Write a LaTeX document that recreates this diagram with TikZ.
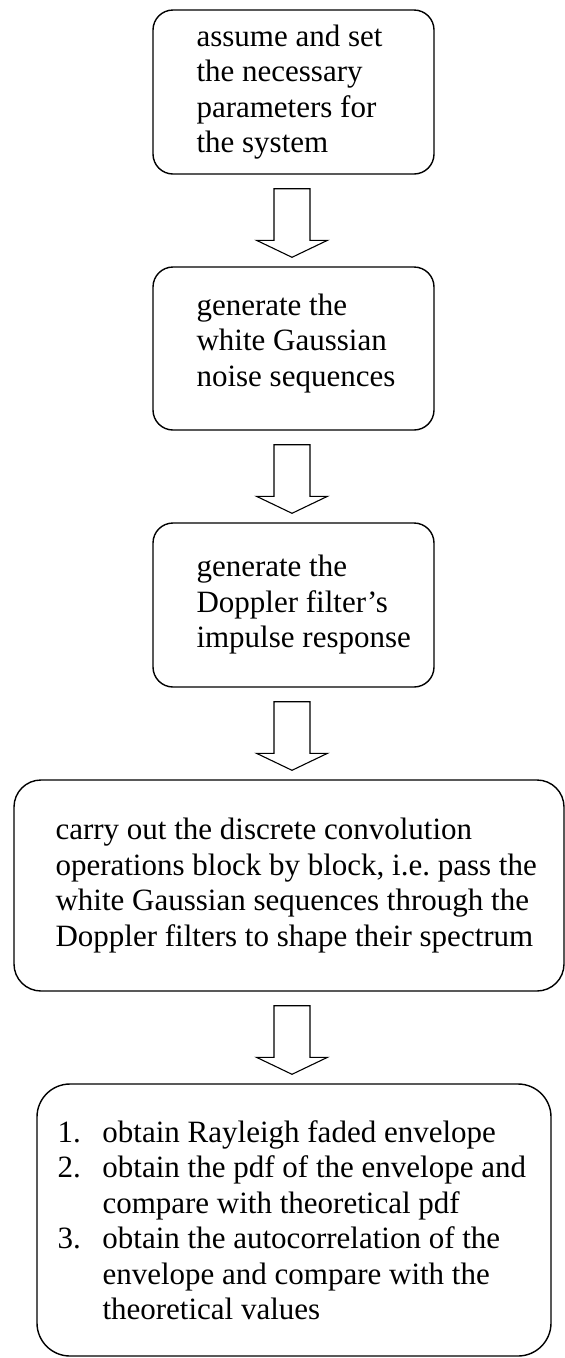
\documentclass[tikz,border=0pt]{standalone}
\usepackage{fontspec}
\setmainfont{Liberation Serif}
\usetikzlibrary{calc}
\newcommand{\stepfont}{\fontsize{31}{35.5}\selectfont\frenchspacing}
\tikzset{
  stepbox/.style={draw=black,line width=1.4pt,rounded corners=20pt,
                  minimum width=281pt,minimum height=164pt},
  widebox/.style={stepbox,rounded corners=27pt,minimum width=550pt,minimum height=211pt},
  listbox/.style={stepbox,rounded corners=33pt,minimum width=514pt,minimum height=272pt},
  steptext/.style={anchor=west,align=left,inner sep=0pt,font=\stepfont},
  hollow/.style={draw=black,line width=1.1pt,line join=miter,fill=white},
}
% hollow block arrow from the box above to the box below
\newcommand{\flowstep}[2]{%
  \draw[hollow] ($(axis |- #1.south)+(-18,14)$) -- ($(axis |- #2.north)+(-18,-26)$)
    -- ++(-17.5,0) -- ($(axis |- #2.north)+(0,-9)$) -- ($(axis |- #2.north)+(35.5,-26)$)
    -- ++(-17.5,0) -- ($(axis |- #1.south)+(18,14)$) -- cycle;}
\newcommand{\itemno}[1]{\makebox[45pt][l]{#1}}

\begin{document}
\begin{tikzpicture}[x=1pt,y=-1pt]
  \path[use as bounding box,fill=white] (0,0) rectangle (565,1358);
  \coordinate (axis) at (292,0);

  \node[stepbox] (params) at (293.5,92) {};
  \node[stepbox,minimum height=163pt] (noise) at (293.5,348.5) {};
  \node[stepbox] (impulse) at (293.5,605) {};
  \node[widebox] (conv) at (289,885.5) {};
  \node[listbox] (results) at (294,1220) {};

  \node[steptext] (paramsText) at ([xshift=44pt]params.west)
    {assume and set\\the necessary\\parameters for\\the system};
  \node[steptext] (noiseText) at ([xshift=44pt,yshift=5pt]noise.west)
    {generate the\\white Gaussian\\noise sequences};
  \node[steptext] (impulseText) at ([xshift=44pt]impulse.west)
    {generate the\\Doppler filter’s\\impulse response};
  \node[steptext] (convText) at ([xshift=42pt]conv.west)
    {carry out the discrete convolution\\
     operations block by block, i.e. pass the\\
     white Gaussian sequences through the\\
     Doppler filters to shape their spectrum};
  \node[steptext] (resultsText) at ([xshift=21pt]results.west)
    {\itemno{1.}obtain Rayleigh faded envelope\\
     \itemno{2.}obtain the pdf of the envelope and\\
     \hspace*{45pt}compare with theoretical pdf\\
     \itemno{3.}obtain the autocorrelation of the\\
     \hspace*{45pt}envelope and compare with the\\
     \hspace*{45pt}theoretical values};

  \flowstep{params}{noise}
  \flowstep{noise}{impulse}
  \flowstep{impulse}{conv}
  \flowstep{conv}{results}
\end{tikzpicture}
\end{document}
